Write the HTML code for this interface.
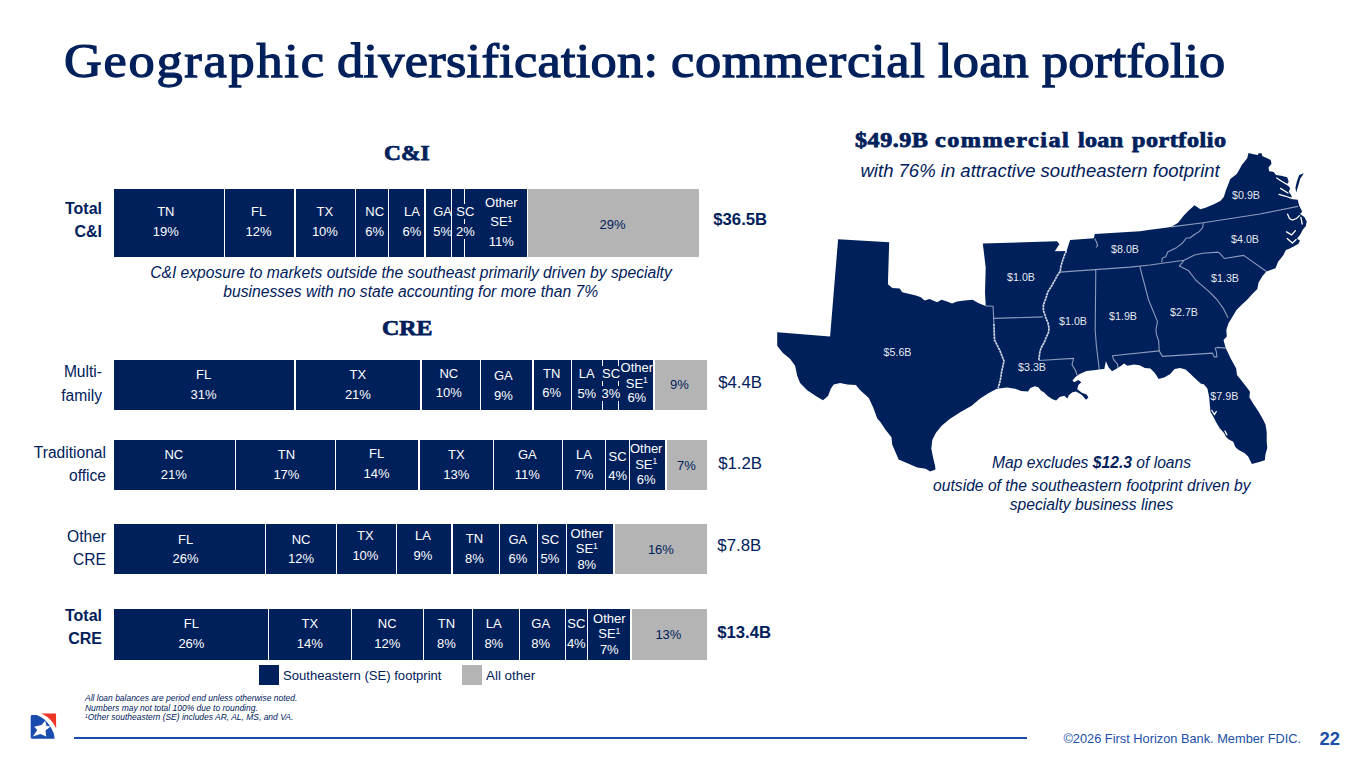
<!DOCTYPE html>
<html><head><meta charset="utf-8"><title>Geographic diversification</title>
<style>
html,body{margin:0;padding:0;background:#fff;}
body{width:1365px;height:768px;position:relative;overflow:hidden;font-family:"Liberation Sans",sans-serif;color:#00205b;}
.abs{position:absolute;white-space:nowrap;}
.nv{position:absolute;background:#00205b;}
.gr{position:absolute;background:#b4b4b4;}
.dv{position:absolute;}
.bl{position:absolute;width:80px;text-align:center;font-size:13px;line-height:13px;white-space:nowrap;}
.bg{background:#00205b;}
.sup{font-size:8.6px;position:relative;top:-4.6px;line-height:0;}
.title{top:33px;font-family:"Liberation Serif",serif;font-size:48.5px;line-height:56px;-webkit-text-stroke:1.25px #00205b;transform:scaleX(1.08);transform-origin:0 0;}
.h2{font-family:"Liberation Serif",serif;font-weight:bold;font-size:22px;line-height:24px;transform:scaleX(1.11);transform-origin:0 0;-webkit-text-stroke:0.75px #00205b;}
.rl{position:absolute;text-align:right;font-size:15.6px;line-height:23.7px;width:110px;}
.val{font-size:16.8px;line-height:20px;}
.note{font-style:italic;font-size:15.65px;line-height:18.8px;text-align:center;}
</style></head><body>
<div class="abs title" style="left:64.4px;letter-spacing:1.60px;">Geographic</div>
<div class="abs title" style="left:336.9px;letter-spacing:0.24px;">diversification:</div>
<div class="abs title" style="left:671.1px;letter-spacing:0.67px;">commercial</div>
<div class="abs title" style="left:938.2px;letter-spacing:0.19px;">loan</div>
<div class="abs title" style="left:1042.2px;letter-spacing:0.00px;">portfolio</div>

<div class="abs h2" style="left:384.3px;top:140.7px;transform:scaleX(1.065);">C&amp;I</div>
<div class="abs h2" style="left:382.4px;top:316.3px;transform:scaleX(1.083);">CRE</div>

<div class="nv" style="left:113.5px;top:188.5px;width:413.9px;height:68.3px"></div>
<div class="gr" style="left:527.9px;top:188.5px;width:171.5px;height:68.3px"></div>
<div class="dv" style="left:223.75px;top:188.5px;width:1.5px;height:68.3px;background:#ffffff"></div>
<div class="dv" style="left:294.25px;top:188.5px;width:1.5px;height:68.3px;background:#ffffff"></div>
<div class="dv" style="left:354.75px;top:188.5px;width:1.5px;height:68.3px;background:#ffffff"></div>
<div class="dv" style="left:387.75px;top:188.5px;width:1.5px;height:68.3px;background:#ffffff"></div>
<div class="dv" style="left:424.25px;top:188.5px;width:1.5px;height:68.3px;background:#ffffff"></div>
<div class="dv" style="left:450.95px;top:188.5px;width:1.5px;height:68.3px;background:#ffffff"></div>
<div class="dv" style="left:463.65px;top:188.5px;width:1.5px;height:68.3px;background:#ffffff"></div>
<div class="bl" style="left:125.8px;top:205.4px;color:#fff"><span class="bg">TN</span></div><div class="bl" style="left:125.8px;top:225.0px;color:#fff"><span class="bg">19%</span></div>
<div class="bl" style="left:218.6px;top:205.4px;color:#fff"><span class="bg">FL</span></div><div class="bl" style="left:218.6px;top:225.0px;color:#fff"><span class="bg">12%</span></div>
<div class="bl" style="left:284.9px;top:205.4px;color:#fff"><span class="bg">TX</span></div><div class="bl" style="left:284.9px;top:225.0px;color:#fff"><span class="bg">10%</span></div>
<div class="bl" style="left:334.7px;top:205.4px;color:#fff"><span class="bg">NC</span></div><div class="bl" style="left:334.7px;top:225.0px;color:#fff"><span class="bg">6%</span></div>
<div class="bl" style="left:372.0px;top:205.4px;color:#fff"><span class="bg">LA</span></div><div class="bl" style="left:372.0px;top:225.0px;color:#fff"><span class="bg">6%</span></div>
<div class="bl" style="left:402.6px;top:205.4px;color:#fff"><span>GA</span></div><div class="bl" style="left:402.6px;top:225.0px;color:#fff"><span>5%</span></div>
<div class="bl" style="left:425.4px;top:205.4px;color:#fff"><span class="bg">SC</span></div><div class="bl" style="left:425.4px;top:225.0px;color:#fff"><span class="bg">2%</span></div>
<div class="bl" style="left:461.3px;top:195.5px;color:#fff"><span class="bg">Other</span></div><div class="bl" style="left:461.3px;top:215.2px;color:#fff"><span class="bg">SE<span class="sup">1</span></span></div><div class="bl" style="left:461.3px;top:234.6px;color:#fff"><span class="bg">11%</span></div>
<div class="bl" style="left:572.6px;top:217.5px;color:#00205b"><span>29%</span></div>
<div class="nv" style="left:113.5px;top:359.6px;width:539.5px;height:50.2px"></div>
<div class="gr" style="left:655.1px;top:359.6px;width:52.1px;height:50.2px"></div>
<div class="dv" style="left:294.35px;top:359.6px;width:1.3px;height:50.2px;background:#ffffff"></div>
<div class="dv" style="left:420.35px;top:359.6px;width:1.3px;height:50.2px;background:#ffffff"></div>
<div class="dv" style="left:479.55px;top:359.6px;width:1.3px;height:50.2px;background:#ffffff"></div>
<div class="dv" style="left:532.35px;top:359.6px;width:1.3px;height:50.2px;background:#ffffff"></div>
<div class="dv" style="left:571.15px;top:359.6px;width:1.3px;height:50.2px;background:#ffffff"></div>
<div class="dv" style="left:602.15px;top:359.6px;width:1.3px;height:50.2px;background:#ffffff"></div>
<div class="dv" style="left:617.85px;top:359.6px;width:1.3px;height:50.2px;background:#ffffff"></div>
<div class="bl" style="left:163.6px;top:367.8px;color:#fff"><span class="bg">FL</span></div><div class="bl" style="left:163.6px;top:387.5px;color:#fff"><span class="bg">31%</span></div>
<div class="bl" style="left:317.9px;top:367.8px;color:#fff"><span class="bg">TX</span></div><div class="bl" style="left:317.9px;top:387.5px;color:#fff"><span class="bg">21%</span></div>
<div class="bl" style="left:408.8px;top:366.7px;color:#fff"><span class="bg">NC</span></div><div class="bl" style="left:408.8px;top:385.9px;color:#fff"><span class="bg">10%</span></div>
<div class="bl" style="left:463.4px;top:369.0px;color:#fff"><span class="bg">GA</span></div><div class="bl" style="left:463.4px;top:388.7px;color:#fff"><span class="bg">9%</span></div>
<div class="bl" style="left:511.7px;top:366.7px;color:#fff"><span class="bg">TN</span></div><div class="bl" style="left:511.7px;top:385.9px;color:#fff"><span class="bg">6%</span></div>
<div class="bl" style="left:546.8px;top:367.1px;color:#fff"><span class="bg">LA</span></div><div class="bl" style="left:546.8px;top:386.6px;color:#fff"><span class="bg">5%</span></div>
<div class="bl" style="left:571.0px;top:367.1px;color:#fff"><span class="bg">SC</span></div><div class="bl" style="left:571.0px;top:386.6px;color:#fff"><span class="bg">3%</span></div>
<div class="bl" style="left:596.8px;top:360.8px;color:#fff"><span class="bg">Other</span></div><div class="bl" style="left:596.8px;top:376.5px;color:#fff"><span class="bg">SE<span class="sup">1</span></span></div><div class="bl" style="left:596.8px;top:391.0px;color:#fff"><span class="bg">6%</span></div>
<div class="bl" style="left:639.4px;top:378.4px;color:#00205b"><span>9%</span></div>
<div class="nv" style="left:113.5px;top:440.2px;width:551.8px;height:50.1px"></div>
<div class="gr" style="left:667.3px;top:440.2px;width:39.9px;height:50.1px"></div>
<div class="dv" style="left:234.65px;top:440.2px;width:1.3px;height:50.1px;background:#ffffff"></div>
<div class="dv" style="left:334.75px;top:440.2px;width:1.3px;height:50.1px;background:#ffffff"></div>
<div class="dv" style="left:418.35px;top:440.2px;width:1.3px;height:50.1px;background:#ffffff"></div>
<div class="dv" style="left:492.65px;top:440.2px;width:1.3px;height:50.1px;background:#ffffff"></div>
<div class="dv" style="left:561.55px;top:440.2px;width:1.3px;height:50.1px;background:#ffffff"></div>
<div class="dv" style="left:604.95px;top:440.2px;width:1.3px;height:50.1px;background:#ffffff"></div>
<div class="dv" style="left:628.65px;top:440.2px;width:1.3px;height:50.1px;background:#ffffff"></div>
<div class="bl" style="left:133.8px;top:447.6px;color:#fff"><span class="bg">NC</span></div><div class="bl" style="left:133.8px;top:467.5px;color:#fff"><span class="bg">21%</span></div>
<div class="bl" style="left:246.4px;top:447.6px;color:#fff"><span class="bg">TN</span></div><div class="bl" style="left:246.4px;top:467.5px;color:#fff"><span class="bg">17%</span></div>
<div class="bl" style="left:336.6px;top:447.1px;color:#fff"><span class="bg">FL</span></div><div class="bl" style="left:336.6px;top:467.0px;color:#fff"><span class="bg">14%</span></div>
<div class="bl" style="left:416.3px;top:447.6px;color:#fff"><span class="bg">TX</span></div><div class="bl" style="left:416.3px;top:467.5px;color:#fff"><span class="bg">13%</span></div>
<div class="bl" style="left:487.3px;top:447.6px;color:#fff"><span class="bg">GA</span></div><div class="bl" style="left:487.3px;top:467.5px;color:#fff"><span class="bg">11%</span></div>
<div class="bl" style="left:544.0px;top:447.6px;color:#fff"><span class="bg">LA</span></div><div class="bl" style="left:544.0px;top:467.5px;color:#fff"><span class="bg">7%</span></div>
<div class="bl" style="left:577.6px;top:449.5px;color:#fff"><span class="bg">SC</span></div><div class="bl" style="left:577.6px;top:468.9px;color:#fff"><span class="bg">4%</span></div>
<div class="bl" style="left:606.2px;top:442.0px;color:#fff"><span class="bg">Other</span></div><div class="bl" style="left:606.2px;top:457.7px;color:#fff"><span class="bg">SE<span class="sup">1</span></span></div><div class="bl" style="left:606.2px;top:472.9px;color:#fff"><span class="bg">6%</span></div>
<div class="bl" style="left:646.5px;top:458.9px;color:#00205b"><span>7%</span></div>
<div class="nv" style="left:113.5px;top:524.3px;width:499.8px;height:50.2px"></div>
<div class="gr" style="left:615.2px;top:524.3px;width:92.0px;height:50.2px"></div>
<div class="dv" style="left:264.65px;top:524.3px;width:1.3px;height:50.2px;background:#ffffff"></div>
<div class="dv" style="left:336.15px;top:524.3px;width:1.3px;height:50.2px;background:#ffffff"></div>
<div class="dv" style="left:395.95px;top:524.3px;width:1.3px;height:50.2px;background:#ffffff"></div>
<div class="dv" style="left:451.35px;top:524.3px;width:1.3px;height:50.2px;background:#ffffff"></div>
<div class="dv" style="left:498.55px;top:524.3px;width:1.3px;height:50.2px;background:#ffffff"></div>
<div class="dv" style="left:536.95px;top:524.3px;width:1.3px;height:50.2px;background:#ffffff"></div>
<div class="dv" style="left:565.55px;top:524.3px;width:1.3px;height:50.2px;background:#ffffff"></div>
<div class="bl" style="left:145.6px;top:532.6px;color:#fff"><span class="bg">FL</span></div><div class="bl" style="left:145.6px;top:552.0px;color:#fff"><span class="bg">26%</span></div>
<div class="bl" style="left:261.1px;top:532.6px;color:#fff"><span class="bg">NC</span></div><div class="bl" style="left:261.1px;top:552.0px;color:#fff"><span class="bg">12%</span></div>
<div class="bl" style="left:325.4px;top:529.3px;color:#fff"><span class="bg">TX</span></div><div class="bl" style="left:325.4px;top:549.0px;color:#fff"><span class="bg">10%</span></div>
<div class="bl" style="left:383.0px;top:529.0px;color:#fff"><span class="bg">LA</span></div><div class="bl" style="left:383.0px;top:549.0px;color:#fff"><span class="bg">9%</span></div>
<div class="bl" style="left:434.5px;top:532.1px;color:#fff"><span class="bg">TN</span></div><div class="bl" style="left:434.5px;top:551.6px;color:#fff"><span class="bg">8%</span></div>
<div class="bl" style="left:477.9px;top:532.6px;color:#fff"><span class="bg">GA</span></div><div class="bl" style="left:477.9px;top:552.0px;color:#fff"><span class="bg">6%</span></div>
<div class="bl" style="left:510.0px;top:532.6px;color:#fff"><span class="bg">SC</span></div><div class="bl" style="left:510.0px;top:552.0px;color:#fff"><span class="bg">5%</span></div>
<div class="bl" style="left:546.8px;top:527.0px;color:#fff"><span class="bg">Other</span></div><div class="bl" style="left:546.8px;top:542.2px;color:#fff"><span class="bg">SE<span class="sup">1</span></span></div><div class="bl" style="left:546.8px;top:557.5px;color:#fff"><span class="bg">8%</span></div>
<div class="bl" style="left:620.9px;top:543.4px;color:#00205b"><span>16%</span></div>
<div class="nv" style="left:113.5px;top:609.3px;width:516.7px;height:50.3px"></div>
<div class="gr" style="left:631.6px;top:609.3px;width:75.6px;height:50.3px"></div>
<div class="dv" style="left:267.65px;top:609.3px;width:1.3px;height:50.3px;background:#ffffff"></div>
<div class="dv" style="left:350.65px;top:609.3px;width:1.3px;height:50.3px;background:#ffffff"></div>
<div class="dv" style="left:422.55px;top:609.3px;width:1.3px;height:50.3px;background:#ffffff"></div>
<div class="dv" style="left:471.55px;top:609.3px;width:1.3px;height:50.3px;background:#ffffff"></div>
<div class="dv" style="left:518.65px;top:609.3px;width:1.3px;height:50.3px;background:#ffffff"></div>
<div class="dv" style="left:564.65px;top:609.3px;width:1.3px;height:50.3px;background:#ffffff"></div>
<div class="dv" style="left:586.85px;top:609.3px;width:1.3px;height:50.3px;background:#ffffff"></div>
<div class="bl" style="left:151.4px;top:617.1px;color:#fff"><span class="bg">FL</span></div><div class="bl" style="left:151.4px;top:637.0px;color:#fff"><span class="bg">26%</span></div>
<div class="bl" style="left:269.8px;top:617.1px;color:#fff"><span class="bg">TX</span></div><div class="bl" style="left:269.8px;top:637.0px;color:#fff"><span class="bg">14%</span></div>
<div class="bl" style="left:347.2px;top:617.1px;color:#fff"><span class="bg">NC</span></div><div class="bl" style="left:347.2px;top:637.0px;color:#fff"><span class="bg">12%</span></div>
<div class="bl" style="left:406.4px;top:617.1px;color:#fff"><span class="bg">TN</span></div><div class="bl" style="left:406.4px;top:637.0px;color:#fff"><span class="bg">8%</span></div>
<div class="bl" style="left:453.8px;top:617.1px;color:#fff"><span class="bg">LA</span></div><div class="bl" style="left:453.8px;top:637.0px;color:#fff"><span class="bg">8%</span></div>
<div class="bl" style="left:500.7px;top:617.1px;color:#fff"><span class="bg">GA</span></div><div class="bl" style="left:500.7px;top:637.0px;color:#fff"><span class="bg">8%</span></div>
<div class="bl" style="left:536.3px;top:617.1px;color:#fff"><span class="bg">SC</span></div><div class="bl" style="left:536.3px;top:637.0px;color:#fff"><span class="bg">4%</span></div>
<div class="bl" style="left:569.3px;top:611.7px;color:#fff"><span class="bg">Other</span></div><div class="bl" style="left:569.3px;top:627.2px;color:#fff"><span class="bg">SE<span class="sup">1</span></span></div><div class="bl" style="left:569.3px;top:642.5px;color:#fff"><span class="bg">7%</span></div>
<div class="bl" style="left:628.4px;top:628.2px;color:#00205b"><span>13%</span></div>

<div class="rl" style="left:-8px;top:196.5px;font-weight:bold;font-size:16px;line-height:23.5px;">Total<br>C&amp;I</div>
<div class="rl" style="left:-8px;top:360.4px;">Multi-<br>family</div>
<div class="rl" style="left:-4px;top:440.9px;line-height:23.2px;">Traditional<br>office</div>
<div class="rl" style="left:-4px;top:524.9px;line-height:23.2px;">Other<br>CRE</div>
<div class="rl" style="left:-8px;top:605.2px;font-size:16px;line-height:22.7px;font-weight:bold;">Total<br>CRE</div>

<div class="abs val" style="left:713.3px;top:209.7px;font-weight:bold;font-size:16.7px;">$36.5B</div>
<div class="abs val" style="left:718.2px;top:372.8px;">$4.4B</div>
<div class="abs val" style="left:718.2px;top:453.5px;">$1.2B</div>
<div class="abs val" style="left:717.3px;top:535.6px;">$7.8B</div>
<div class="abs val" style="left:717.2px;top:622.6px;font-weight:bold;font-size:16.7px;">$13.4B</div>

<div class="abs note" style="left:111px;top:263.7px;width:600px;">C&amp;I exposure to markets outside the southeast primarily driven by specialty</div>
<div class="abs note" style="left:110.7px;top:283.2px;width:600px;">businesses with no state accounting for more than 7%</div>

<div class="abs" style="left:259.3px;top:665.2px;width:20px;height:20px;background:#00205b;"></div>
<div class="abs" style="left:283px;top:667.5px;font-size:13.08px;line-height:16px;">Southeastern (SE) footprint</div>
<div class="abs" style="left:462.2px;top:665.2px;width:19.6px;height:20px;background:#b4b4b4;"></div>
<div class="abs" style="left:486px;top:667.5px;font-size:13.4px;line-height:16px;">All other</div>

<div class="abs" style="left:85px;top:694px;font-size:8.48px;line-height:9.6px;font-style:italic;">All loan balances are period end unless otherwise noted.<br>Numbers may not total 100% due to rounding.<br><span style="font-size:5px;position:relative;top:-2px;">1</span>Other southeastern (SE) includes AR, AL, MS, and VA.</div>

<svg class="abs" style="left:30px;top:712px;" width="28" height="28" viewBox="0 0 28 28">
<path d="M0.7 4.4 Q0.7 3 2.1 3 L6.8 3 Q11 4.6 14.75 7.7 Q18 10.8 20.4 14.75 Q22.4 18 23.7 21.3 Q24.4 24 24.6 26.7 L2.1 26.7 Q0.7 26.7 0.7 25.3 Z" fill="#1a4cad"/>
<path d="M11 1.6 L26 1.6 L26.2 16.6 Q24.8 13.2 22.7 10.5 Q20.6 7.6 18 5.4 Q14.8 3 11 1.6 Z" fill="#ee3424"/>
<path d="M15.2 8.7 L16.6 14 L20.6 14.5 L15.5 18.5 L16.2 24.6 L10.5 22 L2.8 24.6 L7.25 18 L4.2 14.75 L11.5 13.1 Z" fill="#fff"/>
</svg>

<div class="abs" style="left:74px;top:736.7px;width:953px;height:2.8px;background:#1a4cad;"></div>
<div class="abs" style="left:1063.4px;top:731px;font-size:12.8px;line-height:16px;color:#1b4fa8;">©2026 First Horizon Bank. Member FDIC.</div>
<div class="abs" style="left:1319.5px;top:728px;font-size:18.5px;line-height:22px;font-weight:bold;color:#1b4fa8;">22</div>

<div class="abs h2" style="left:854.7px;top:127.8px;font-size:21px;letter-spacing:0.43px;transform:scaleX(1.15);">$49.9B</div>
<div class="abs h2" style="left:935.2px;top:127.8px;font-size:21px;letter-spacing:1.31px;transform:scaleX(1.15);">commercial</div>
<div class="abs h2" style="left:1078.0px;top:127.8px;font-size:21px;letter-spacing:0.25px;transform:scaleX(1.15);">loan</div>
<div class="abs h2" style="left:1131.6px;top:127.8px;font-size:21px;letter-spacing:0.45px;transform:scaleX(1.15);">portfolio</div>
<div class="abs" style="left:860.5px;top:160.2px;font-style:italic;font-size:18.52px;line-height:22px;">with 76% in attractive southeastern footprint</div>

<svg class="abs" style="left:0;top:0;" width="1365" height="768" viewBox="0 0 1365 768">
<polygon points="838.1,239.3 889.2,242.2 887.9,284.2 892.3,287.9 899.7,288.5 902.2,292.3 909.7,294.1 915.9,295.4 920.9,297.2 924.6,300.4 929.6,299.1 937.1,302.2 941.5,299.7 947.1,301.6 952.0,303.5 957.0,301.6 964.5,300.4 972.6,299.7 978.2,302.9 985.7,306.0 985.0,292.3 985.7,267.4 982.8,243.6 1056.8,241.2 1059.5,243.9 1054.8,251.3 1066.6,251.1 1070.1,240.0 1093.9,238.3 1094.7,234.0 1140.0,231.3 1150.0,229.8 1160.0,228.6 1171.1,226.9 1178.1,222.8 1184.0,215.2 1188.7,210.5 1194.5,205.2 1200.4,209.3 1206.2,207.6 1214.4,204.1 1220.3,201.1 1223.8,197.0 1226.0,190.0 1228.0,185.0 1230.3,179.1 1236.8,173.9 1242.0,164.7 1247.2,158.2 1248.5,153.0 1253.7,154.3 1258.0,155.0 1258.5,153.3 1261.5,153.2 1262.5,156.2 1266.2,157.7 1270.7,160.0 1271.5,163.7 1268.5,167.5 1269.2,171.2 1273.7,172.0 1276.0,175.0 1281.2,175.7 1287.2,177.2 1288.7,181.7 1287.2,183.9 1290.2,188.4 1288.7,191.4 1291.7,195.9 1291.0,198.9 1297.7,199.7 1299.2,205.7 1302.2,211.6 1300.0,213.9 1304.4,216.9 1306.7,221.4 1305.9,225.9 1302.9,229.6 1300.0,234.9 1297.0,238.6 1300.0,240.8 1298.4,243.8 1293.2,246.8 1288.7,249.0 1285.9,250.0 1283.3,255.2 1278.1,261.7 1275.5,268.2 1266.4,271.5 1262.5,276.0 1258.6,282.6 1257.3,289.1 1252.1,294.3 1246.9,300.1 1241.7,304.7 1236.5,309.9 1232.6,316.4 1228.6,322.9 1226.3,330.0 1226.8,336.6 1223.5,339.9 1225.7,348.1 1230.7,358.6 1236.2,368.5 1237.0,375.0 1242.0,381.2 1246.9,387.4 1250.0,391.7 1249.4,397.2 1253.1,403.4 1258.0,410.8 1262.4,418.3 1265.5,424.4 1266.7,431.9 1266.7,441.7 1267.3,447.9 1265.5,454.1 1264.8,460.3 1259.3,462.1 1251.9,464.0 1250.6,461.5 1248.2,456.6 1244.4,452.9 1238.3,449.8 1235.2,446.7 1233.3,441.7 1228.4,439.3 1225.9,436.8 1224.0,433.1 1219.7,428.2 1216.0,422.0 1213.5,417.0 1210.5,412.1 1209.8,404.7 1209.2,397.2 1207.4,388.6 1203.7,384.3 1201.0,383.8 1194.4,377.8 1190.0,373.4 1185.6,369.6 1180.1,367.9 1174.6,369.0 1170.2,374.0 1164.7,377.3 1158.7,378.9 1154.8,372.9 1150.4,368.5 1144.9,367.9 1139.5,365.2 1134.0,364.6 1127.4,365.7 1124.1,363.5 1121.9,365.2 1116.9,368.5 1112.0,371.2 1108.7,367.4 1105.9,361.3 1104.3,369.0 1100.7,369.3 1093.6,370.2 1086.6,371.1 1079.6,374.0 1075.5,376.9 1072.5,380.4 1074.3,382.2 1078.4,379.9 1081.3,382.2 1078.4,385.1 1077.2,389.2 1081.9,392.8 1086.6,394.5 1088.4,397.4 1086.0,399.8 1081.9,395.1 1076.1,391.6 1072.5,392.2 1069.0,395.1 1067.3,398.6 1064.3,395.7 1059.6,396.9 1056.1,400.4 1052.6,399.2 1047.9,396.3 1044.4,392.8 1040.9,390.4 1038.5,387.5 1035.0,386.3 1030.3,388.1 1028.0,391.6 1021.0,391.0 1015.1,388.7 1006.9,387.5 996.9,388.7 988.8,392.9 980.2,398.6 971.6,405.8 960.2,412.2 950.1,418.7 941.6,425.8 935.8,433.0 932.3,440.1 931.3,448.7 933.0,457.3 935.1,465.9 935.5,469.5 930.1,471.6 925.8,468.8 917.2,467.4 908.6,463.8 898.6,459.5 896.5,454.5 892.2,444.4 891.5,437.3 885.7,430.1 880.0,421.5 877.4,418.8 873.1,407.3 868.8,398.0 860.2,390.2 855.9,385.1 847.3,384.4 840.1,383.0 833.7,384.4 830.8,388.7 828.0,395.9 823.0,400.2 815.8,395.9 807.2,390.2 800.1,383.0 797.2,375.8 795.1,365.8 790.0,358.7 782.9,352.9 777.2,345.8 777.2,332.2 830.1,336.5" fill="#00205b"/>
<polygon points="1303.9,173.3 1299.2,175.0 1297.0,181.0 1295.4,187.7 1296.2,192.4 1297.9,187.0 1300.2,178.7" fill="#00205b"/>
<g fill="none" stroke="#b9c4dd" stroke-opacity="0.75" stroke-width="1.1" stroke-linejoin="round">
<path d="M993.4 318.4 L1042.9 316.9"/>
<path d="M1038.8 360.5 L1073.7 358.4 L1072.0 364.6 L1075.5 370.5 L1077.2 375.2"/>
<path d="M1059.8 272.1 L1130.0 267.1 L1150.0 265.0 L1184.0 260.3 L1194.5 255.0 L1202.7 253.3 L1218.0 252.1 L1220.3 253.8 L1224.4 258.5 L1243.7 255.4 L1266.4 271.5"/>
<path d="M1095.8 269.5 L1095.2 330.0 L1096.3 345.0 L1099.3 369.6"/>
<path d="M1139.8 266.4 L1148.6 300.0 L1157.5 321.6 L1155.9 330.0 L1156.5 334.4 L1158.7 341.0 L1159.2 350.9 L1162.5 356.4"/>
<path d="M1118.0 367.9 L1117.5 364.1 L1113.6 359.7 L1112.5 355.8 L1159.2 350.9"/>
<path d="M1162.5 356.4 L1212.5 353.1 L1214.2 356.9 L1216.9 356.9 L1216.4 352.0 L1215.3 348.1 L1217.5 347.4 L1225.7 348.1"/>
<path d="M1171.1 226.9 L1203.3 222.8 L1260.0 214.0 L1298.0 206.4"/>
<path d="M1203.3 222.8 L1202.7 227.5 L1199.2 231.6 L1194.5 234.5 L1189.8 238.0 L1186.3 238.0 L1182.8 242.7 L1176.9 247.4 L1172.3 249.7 L1167.6 252.1 L1165.8 256.8 L1162.3 258.0 L1161.7 262.3"/>
<path d="M1184.0 260.3 L1179.3 266.1 L1188.7 270.8 L1195.7 280.0 L1200.0 283.9 L1209.1 291.7 L1216.9 299.5 L1223.4 308.6 L1228.0 317.7"/>
</g>
<g fill="none" stroke="#e6ebf5" stroke-opacity="0.9" stroke-width="1.7" stroke-linejoin="round" stroke-dasharray="2.6 0.5">
<path d="M1066.4 250.7 L1064.5 255.0 L1062.5 261.0 L1061.0 266.0 L1060.2 271.3 L1057.0 276.0 L1054.0 281.7 L1051.0 287.0 L1047.7 292.1 L1046.0 298.0 L1043.5 304.6 L1043.3 310.0 L1045.6 317.1 L1048.0 323.0 L1049.0 328.0 L1048.6 332.0 L1046.0 338.0 L1044.2 342.4 L1041.0 348.0 L1039.7 352.9 L1038.8 360.5"/>
<path d="M993.9 324.0 L994.5 340.0 L999.9 350.6 L1004.0 361.1 L1001.6 371.7 L1000.4 379.9 L998.1 388.1"/>
</g>
<g fill="none" stroke="#b9c4dd" stroke-opacity="0.75" stroke-width="1.1" stroke-linejoin="round">
<path d="M985.7 306.0 L993.1 306.2 L993.9 324.0"/>
<path d="M1094.7 238.5 L1096.5 242.0 L1097.6 245.5 L1096.2 247.5"/>
</g>
<g fill="none" stroke="#fff" stroke-width="1.3" stroke-linecap="round">
<path d="M1211.8 410.5 L1214.5 414.5 L1216.3 411.5"/>
<path d="M1225.0 431.0 L1226.8 434.8"/>
<path d="M1276.7 178.0 L1282.0 181.5 L1288.7 185.4"/>
<path d="M1280.5 188.4 L1288.0 193.0"/>
<path d="M1279.0 194.4 L1285.0 196.0 L1291.0 198.2"/>
<path d="M1287.6 214.2 L1289.5 218.5 L1292.4 220.0 L1296.5 218.5 L1299.5 215.6"/>
<path d="M1300.9 217.5 L1302.2 224.0"/>
<path d="M1286.5 231.9 L1291.7 234.9 L1295.4 230.6"/>
<path d="M1287.2 238.6 L1292.4 243.1 L1296.2 239.6"/>
</g>
<g fill="#fff" fill-opacity="0.92" font-family="'Liberation Sans',sans-serif" font-size="10.7" text-anchor="middle">
<text x="897.5" y="356.3">$5.6B</text>
<text x="1021" y="280.8">$1.0B</text>
<text x="1032" y="370.8">$3.3B</text>
<text x="1073" y="324.8">$1.0B</text>
<text x="1125" y="252.8">$8.0B</text>
<text x="1123" y="320.3">$1.9B</text>
<text x="1184" y="316.3">$2.7B</text>
<text x="1225" y="281.8">$1.3B</text>
<text x="1245" y="243.3">$4.0B</text>
<text x="1246" y="198.8">$0.9B</text>
<text x="1224.3" y="399.8">$7.9B</text>
</g>
</svg>

<div class="abs note" style="left:891.5px;top:454px;width:400px;">Map excludes <b>$12.3</b> of loans</div>
<div class="abs note" style="left:891.8px;top:476.3px;width:400px;line-height:19.3px;">outside of the southeastern footprint driven by</div>
<div class="abs note" style="left:891.5px;top:494.8px;width:400px;line-height:19.3px;">specialty business lines</div>
</body></html>
